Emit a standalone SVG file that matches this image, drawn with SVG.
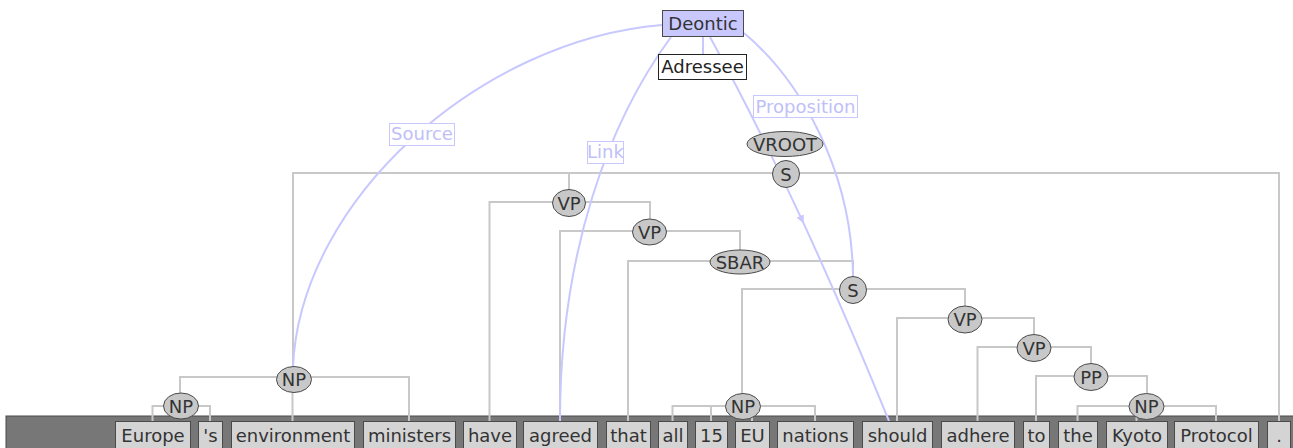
<svg xmlns="http://www.w3.org/2000/svg" width="1293" height="448" viewBox="0 0 1293 448">
  <style>
    text { font-family: "DejaVu Sans", "Liberation Sans", sans-serif; font-size: 18px; text-anchor: middle; }
    .tree { fill: none; stroke: #c8c8c8; stroke-width: 2; }
    .arc { fill: none; stroke: #c8c8ff; stroke-width: 2; }
    .cat ellipse { fill: #c8c8c8; stroke: #4a4a4a; stroke-width: 1; }
    .cat text { fill: #333; }
    .word rect { fill: #d4d4d4; stroke: #4a4a4a; stroke-width: 1; }
    .word text { fill: #333; }
    .lbl rect { fill: #fff; stroke: #c8c8ff; stroke-width: 1; }
    .lbl text { fill: #c0c0f8; }
  </style>
  <defs>
    <marker id="mid-arrow" viewBox="0 0 10 10" refX="5" refY="5" markerWidth="8" markerHeight="8" markerUnits="userSpaceOnUse" orient="auto">
      <path d="M0,0 L10,5 L0,10 z" fill="#c8c8ff"/>
    </marker>
  </defs>

  <rect width="1293" height="448" fill="#fff"/>

  <!-- token strip -->
  <rect x="6" y="416" width="1288" height="40" fill="#777" stroke="#4a4a4a" stroke-width="1"/>

  <!-- constituency tree connectors -->
  <g id="tree-edges" class="tree">
    <path d="M293,367 V173 H1279 V421 M569,173 V190"/>
    <path d="M180,393 V377 H409 V421 M292.5,377 V421"/>
    <path d="M152.5,421 V406 H210 V421"/>
    <path d="M489.5,421 V202 H650 V219"/>
    <path d="M560,421 V231 H740 V251"/>
    <path d="M628,421 V261 H853 V277"/>
    <path d="M742,393 V289 H965 V306"/>
    <path d="M672.5,421 V406 H815 V421 M711,406 V421 M752,406 V421"/>
    <path d="M897,421 V318 H1034 V334"/>
    <path d="M977.5,421 V347 H1091 V363"/>
    <path d="M1036,421 V376 H1147 V393"/>
    <path d="M1077.5,421 V406 H1216 V421 M1136.5,406 V421"/>
  </g>

  <!-- annotation relations -->
  <g id="relations" class="arc">
    <path d="M662,25 C480,40 300,200 293,367"/>
    <path d="M671,37 C610,120 560,250 560,421"/>
    <path d="M703,37 V54"/>
    <path d="M744,33 C800,80 852,170 853,277"/>
    <path d="M710,37 Q755.2,119.2 801.9,219.7 Q844.8,312.5 889,421" marker-mid="url(#mid-arrow)"/>
  </g>

  <!-- relation labels -->
  <g id="lbl-source" class="lbl"><rect x="389.5" y="123.5" width="65" height="22"/><text x="422" y="140">Source</text></g>
  <g id="lbl-link" class="lbl"><rect x="587.5" y="141.5" width="36" height="22"/><text x="605.5" y="158">Link</text></g>
  <g id="lbl-proposition" class="lbl"><rect x="753.5" y="95.5" width="104" height="22"/><text x="805.5" y="113">Proposition</text></g>

  <!-- frame nodes -->
  <g id="deontic"><rect x="662.5" y="10.5" width="81" height="26" fill="#c8c8ff" stroke="#4a4a4a"/><text x="703" y="30" fill="#333">Deontic</text></g>
  <g id="adressee"><rect x="658.5" y="54.5" width="88" height="25" fill="#fff" stroke="#222"/><text x="702.5" y="73" fill="#222">Adressee</text></g>

  <!-- phrase nodes -->
  <g id="vroot" class="cat"><ellipse cx="785" cy="144" rx="38" ry="12.5"/><text x="785" y="150.5">VROOT</text></g>
  <g id="s-top" class="cat"><ellipse cx="786" cy="174" rx="13.5" ry="13.5"/><text x="786" y="180.5">S</text></g>
  <g id="np-subj" class="cat"><ellipse cx="294" cy="379.5" rx="17.5" ry="13"/><text x="294" y="386">NP</text></g>
  <g id="np-poss" class="cat"><ellipse cx="181" cy="406" rx="17.5" ry="13"/><text x="181" y="412.5">NP</text></g>
  <g id="vp-1" class="cat"><ellipse cx="569" cy="203" rx="16.5" ry="13.5"/><text x="569" y="209.5">VP</text></g>
  <g id="vp-2" class="cat"><ellipse cx="649.5" cy="232" rx="17" ry="13"/><text x="649.5" y="238.5">VP</text></g>
  <g id="sbar" class="cat"><ellipse cx="740" cy="262" rx="30" ry="12"/><text x="740" y="268.5">SBAR</text></g>
  <g id="s-emb" class="cat"><ellipse cx="853" cy="290" rx="13.5" ry="13.5"/><text x="853" y="296.5">S</text></g>
  <g id="np-eu" class="cat"><ellipse cx="743" cy="406.5" rx="17.5" ry="13"/><text x="743" y="413">NP</text></g>
  <g id="vp-3" class="cat"><ellipse cx="965" cy="319.5" rx="17" ry="13.5"/><text x="965" y="326">VP</text></g>
  <g id="vp-4" class="cat"><ellipse cx="1034" cy="348" rx="17" ry="13.5"/><text x="1034" y="354.5">VP</text></g>
  <g id="pp" class="cat"><ellipse cx="1091" cy="377" rx="17" ry="13.5"/><text x="1091" y="383.5">PP</text></g>
  <g id="np-kyoto" class="cat"><ellipse cx="1146.5" cy="406.5" rx="17.5" ry="13"/><text x="1146.5" y="413">NP</text></g>

  <!-- tokens -->
  <g id="w-europe" class="word"><rect x="115.5" y="421.5" width="75" height="30"/><text x="153" y="441.5">Europe</text></g>
  <g id="w-s" class="word"><rect x="198.5" y="421.5" width="24" height="30"/><text x="210.5" y="441.5">'s</text></g>
  <g id="w-environment" class="word"><rect x="231.5" y="421.5" width="123" height="30"/><text x="293" y="441.5">environment</text></g>
  <g id="w-ministers" class="word"><rect x="363.5" y="421.5" width="92" height="30"/><text x="409.5" y="441.5">ministers</text></g>
  <g id="w-have" class="word"><rect x="463.5" y="421.5" width="53" height="30"/><text x="490" y="441.5">have</text></g>
  <g id="w-agreed" class="word"><rect x="523.5" y="421.5" width="74" height="30"/><text x="560.5" y="441.5">agreed</text></g>
  <g id="w-that" class="word"><rect x="606.5" y="421.5" width="44" height="30"/><text x="628.5" y="441.5">that</text></g>
  <g id="w-all" class="word"><rect x="658.5" y="421.5" width="29" height="30"/><text x="673" y="441.5">all</text></g>
  <g id="w-15" class="word"><rect x="695.5" y="421.5" width="32" height="30"/><text x="711.5" y="441.5">15</text></g>
  <g id="w-eu" class="word"><rect x="735.5" y="421.5" width="34" height="30"/><text x="752.5" y="441.5">EU</text></g>
  <g id="w-nations" class="word"><rect x="777.5" y="421.5" width="76" height="30"/><text x="815.5" y="441.5">nations</text></g>
  <g id="w-should" class="word"><rect x="862.5" y="421.5" width="70" height="30"/><text x="897.5" y="441.5">should</text></g>
  <g id="w-adhere" class="word"><rect x="941.5" y="421.5" width="73" height="30"/><text x="978" y="441.5">adhere</text></g>
  <g id="w-to" class="word"><rect x="1023.5" y="421.5" width="26" height="30"/><text x="1036.5" y="441.5">to</text></g>
  <g id="w-the" class="word"><rect x="1058.5" y="421.5" width="39" height="30"/><text x="1078" y="441.5">the</text></g>
  <g id="w-kyoto" class="word"><rect x="1106.5" y="421.5" width="61" height="30"/><text x="1137" y="441.5">Kyoto</text></g>
  <g id="w-protocol" class="word"><rect x="1174.5" y="421.5" width="84" height="30"/><text x="1216.5" y="441.5">Protocol</text></g>
  <g id="w-period" class="word"><rect x="1267.5" y="421.5" width="23" height="30"/><text x="1279" y="441.5">.</text></g>
</svg>
